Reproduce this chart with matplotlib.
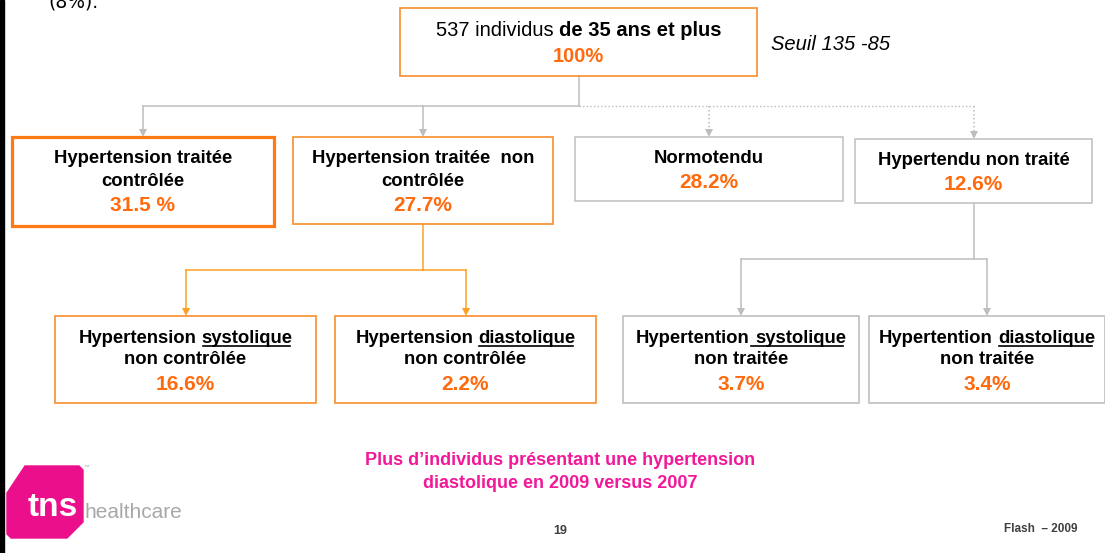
import matplotlib
matplotlib.use("Agg")
import matplotlib.pyplot as plt
from matplotlib.patches import Rectangle, Polygon

# ---------------------------------------------------------
# Data (texts and percentages of the tree)
# ---------------------------------------------------------
top_regular = "537 individus"
top_bold = "de 35 ans et plus"
top_pct = "100%"
threshold_note = "Seuil 135 -85"

level1_labels = ["Hypertension traitée\ncontrôlée",
                 "Hypertension traitée  non\ncontrôlée",
                 "Normotendu",
                 "Hypertendu non traité"]
level1_pcts = ["31.5 %", "27.7%", "28.2%", "12.6%"]

level2_prefix = ["Hypertension", "Hypertension", "Hypertention", "Hypertention"]
level2_underlined = ["systolique", "diastolique", "systolique", "diastolique"]
level2_second = ["non contrôlée", "non contrôlée", "non traitée", "non traitée"]
level2_pcts = ["16.6%", "2.2%", "3.7%", "3.4%"]

conclusion = ["Plus d\u2019individus présentant une hypertension",
              "diastolique en 2009 versus 2007"]
page_number = "19"
footer = "Flash  \u2013 2009"
cut_text = "(8%)."

# ---------------------------------------------------------
# Layout (pixel coordinates, y going down)
# ---------------------------------------------------------
top_box = (400, 8, 757, 76)
level1_boxes = [(12, 137, 274, 226), (293, 137, 553, 224),
                (575, 137, 843, 201), (855, 139, 1092, 203)]
level2_boxes = [(55, 316, 316, 403), (335, 316, 596, 403),
                (623, 316, 859, 403), (869, 316, 1105, 403)]

ORANGE_TXT = "#FF6A0D"
ORANGE_BOX = "#F9963E"
ORANGE_STRONG = "#FF7A12"
ORANGE_LINE = "#FFA024"
GREY_BOX = "#C4C4C4"
GREY_LINE = "#BDBDBD"
PINK = "#F2189A"

plt.rcParams["font.family"] = ["Liberation Sans", "DejaVu Sans"]

fig = plt.figure(figsize=(11.05, 5.53), dpi=100)
ax = fig.add_axes([0, 0, 1, 1])
ax.set_xlim(0, 1105)
ax.set_ylim(553, 0)
ax.axis("off")
r = fig.canvas.get_renderer()


def text_width(s, **kw):
    t = ax.text(0, 0, s, **kw)
    w = t.get_window_extent(renderer=r).width
    t.remove()
    return w


def space_width(**kw):
    return text_width("x x", **kw) - text_width("xx", **kw)


def draw_box(b, color, lw):
    x0, y0, x1, y1 = b
    ax.add_patch(Rectangle((x0, y0), x1 - x0, y1 - y0, fill=False,
                           edgecolor=color, linewidth=lw, zorder=3))


def center(b):
    return (b[0] + b[2]) / 2


def drop(x, y0, y1, color, dotted=False):
    ls = (0, (1, 1.6)) if dotted else "-"
    ax.plot([x, x], [y0, y1 - 6], color=color, lw=1.1, ls=ls, zorder=2)
    ax.plot([x], [y1 - 4], marker="v", markersize=6, color=color,
            markeredgewidth=0, zorder=2)


# left black border
ax.add_patch(Rectangle((0, 0), 3.5, 553, color="black", zorder=5))

# text cut by the top edge of the slide
ax.text(48, 8, cut_text, fontsize=13.5, family="DejaVu Sans", va="baseline", color="black")

# ---------------------------------------------------------
# Top box
# ---------------------------------------------------------
draw_box(top_box, ORANGE_BOX, 1.3)
cx = center(top_box)
fs_top = 14.5
sp = space_width(fontsize=fs_top)
w_reg = text_width(top_regular, fontsize=fs_top)
w_bold = text_width(top_bold, fontsize=fs_top, fontweight="bold")
x = cx - (w_reg + sp + w_bold) / 2
ax.text(x, 36, top_regular, fontsize=fs_top, va="baseline", ha="left")
ax.text(x + w_reg + sp, 36, top_bold, fontsize=fs_top, fontweight="bold",
        va="baseline", ha="left")
ax.text(cx, 62, top_pct, fontsize=fs_top, fontweight="bold", color=ORANGE_TXT,
        va="baseline", ha="center")
ax.text(771, 50, threshold_note, fontsize=14.5, style="italic", va="baseline", ha="left")

# connectors top -> level 1
y_bus = 106
ax.plot([cx, cx], [top_box[3], y_bus], color=GREY_LINE, lw=1.1, zorder=2)
ax.plot([center(level1_boxes[0]), cx], [y_bus, y_bus], color=GREY_LINE, lw=1.1, zorder=2)
ax.plot([cx, center(level1_boxes[3])], [y_bus, y_bus], color=GREY_LINE, lw=1.0,
        ls=(0, (1, 1.6)), zorder=2)
for i, b in enumerate(level1_boxes):
    drop(center(b), y_bus, b[1], GREY_LINE, dotted=(i >= 2))

# ---------------------------------------------------------
# Level 1 boxes
# ---------------------------------------------------------
l1_styles = [(ORANGE_STRONG, 2.3), (ORANGE_BOX, 1.3), (GREY_BOX, 1.2), (GREY_BOX, 1.2)]
fs_lab = 13.3
fs_pct = 15
for b, lab, pct, (col, lw) in zip(level1_boxes, level1_labels, level1_pcts, l1_styles):
    draw_box(b, col, lw)
    c = center(b)
    y = 163 if b[1] < 138 else 165
    for ln in lab.split("\n"):
        ax.text(c, y, ln, fontsize=fs_lab, fontweight="bold", ha="center", va="baseline")
        y += 23
    ax.text(c, y + 2, pct, fontsize=fs_pct, fontweight="bold", color=ORANGE_TXT,
            ha="center", va="baseline")

# connectors level 1 -> level 2
pairs = [(level1_boxes[1], level2_boxes[0:2], ORANGE_LINE, 270),
         (level1_boxes[3], level2_boxes[2:4], GREY_LINE, 259)]
for parent, kids, col, yb in pairs:
    px = center(parent)
    ax.plot([px, px], [parent[3], yb], color=col, lw=1.1, zorder=2)
    ax.plot([center(kids[0]), center(kids[1])], [yb, yb], color=col, lw=1.1, zorder=2)
    for k in kids:
        drop(center(k), yb, k[1], col)

# ---------------------------------------------------------
# Level 2 boxes
# ---------------------------------------------------------
l2_colors = [ORANGE_BOX, ORANGE_BOX, GREY_BOX, GREY_BOX]
bold_lab = dict(fontsize=fs_lab, fontweight="bold")
for i, b in enumerate(level2_boxes):
    draw_box(b, l2_colors[i], 1.3)
    c = center(b)
    w_pre = text_width(level2_prefix[i], **bold_lab)
    w_word = text_width(level2_underlined[i], **bold_lab)
    sp = space_width(**bold_lab)
    x0 = c - (w_pre + sp + w_word) / 2
    ax.text(x0, 343, level2_prefix[i], ha="left", va="baseline", **bold_lab)
    tw = ax.text(x0 + w_pre + sp, 343, level2_underlined[i], ha="left", va="baseline",
                 **bold_lab)
    bb = tw.get_window_extent(renderer=r)
    u0 = bb.x0 + 1 - (sp if i == 2 else 0)  # this box underlines the space too
    ax.plot([u0, bb.x1 - 3], [345.5, 345.5], color="black", lw=1.2)
    ax.text(c, 364, level2_second[i], ha="center", va="baseline", **bold_lab)
    ax.text(c, 390, level2_pcts[i], fontsize=fs_pct, fontweight="bold", color=ORANGE_TXT,
            ha="center", va="baseline")

# ---------------------------------------------------------
# Conclusion, footer, logo
# ---------------------------------------------------------
narrow = ["Liberation Sans Narrow", "Liberation Sans", "DejaVu Sans"]
ax.text(560, 465, conclusion[0], fontsize=13, fontweight="bold", color=PINK,
        family=narrow, ha="center", va="baseline")
ax.text(560, 488, conclusion[1], fontsize=13, fontweight="bold", color=PINK,
        family=narrow, ha="center", va="baseline")
ax.text(560, 534, page_number, fontsize=9, fontweight="bold", color="#404040",
        family=narrow, ha="center", va="baseline")
ax.text(1078, 532, footer, fontsize=8.5, fontweight="bold", color="#404040",
        family=narrow, ha="right", va="baseline")

logo = [(7, 493), (25, 466), (79, 466), (83, 470), (83, 522), (67, 538), (11, 538), (7, 534)]
ax.add_patch(Polygon(logo, closed=True, color="#EC0F8C", zorder=4))
ax.text(28, 516, "tns", fontsize=24, fontweight="bold", color="white",
        ha="left", va="baseline", zorder=5)
ax.text(84, 518, "healthcare", fontsize=15, color="#A8A8A8", ha="left", va="baseline")
ax.text(84, 469, "\u2122", fontsize=4, color="#A8A8A8", ha="left", va="baseline")

fig.savefig("out.png", dpi=100)
